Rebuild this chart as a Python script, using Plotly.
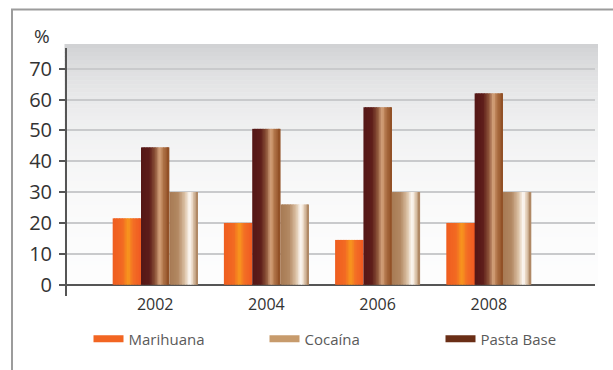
import math
import plotly.graph_objects as go

years = ["2002", "2004", "2006", "2008"]
marihuana = [21.5, 20.0, 14.5, 20.0]
pasta_base = [44.5, 50.5, 57.5, 62.0]
cocaina = [30.0, 26.0, 30.0, 30.0]

series_names = ["Marihuana", "Pasta Base", "Cocaína"]
series_values = [marihuana, pasta_base, cocaina]
legend_order = ["Marihuana", "Cocaína", "Pasta Base"]
legend_colors = {"Marihuana": "#F26522", "Cocaína": "#C79B6C", "Pasta Base": "#6A2E16"}

# horizontal gradient stops (position, color) for each series (cylinder look)
gradients = {
    "Marihuana": [(0.0, "#EF5E20"), (0.35, "#F26923"), (0.55, "#F8981D"), (0.72, "#F36E25"), (1.0, "#F05A22")],
    "Pasta Base": [(0.0, "#541717"), (0.3, "#5E1D1A"), (0.5, "#8C5438"), (0.66, "#D8A780"), (0.78, "#B07448"), (1.0, "#8E4C22")],
    "Cocaína": [(0.0, "#A77A54"), (0.3, "#B28862"), (0.55, "#DCC2A6"), (0.72, "#FFFDFB"), (0.82, "#E6D2BC"), (1.0, "#A67C56")],
}

W, H = 613, 370
ML, MR, MT, MB = 67, 18, 48, 74
PW, PH = W - ML - MR, H - MT - MB


def xp(px):
    return (px - ML) / PW


def yp(py):
    return (H - MB - py) / PH


def hex2rgb(h):
    h = h.lstrip("#")
    return tuple(int(h[i:i + 2], 16) for i in (0, 2, 4))


def interp(stops, t):
    for (p0, c0), (p1, c1) in zip(stops[:-1], stops[1:]):
        if p0 <= t <= p1:
            f = (t - p0) / (p1 - p0) if p1 > p0 else 0
            a, b = hex2rgb(c0), hex2rgb(c1)
            return "rgb(%d,%d,%d)" % tuple(round(a[i] + (b[i] - a[i]) * f) for i in range(3))
    return stops[-1][1]


fig = go.Figure()

bar_w = 0.2548
group_start = -1.5 * bar_w
N = 18
for k, (name, vals) in enumerate(zip(series_names, series_values)):
    s = bar_w / N
    for i in range(N):
        t = (i + 0.5) / N
        width = s * 1.6 if i < N - 1 else s
        fig.add_trace(go.Bar(
            x=years, y=vals, name=name, showlegend=False,
            offset=group_start + k * bar_w + i * s, width=width,
            marker=dict(color=interp(gradients[name], t), line=dict(width=0)),
            hoverinfo="skip",
        ))

for name in legend_order:
    fig.add_trace(go.Scatter(
        x=[None], y=[None], mode="lines", name=name,
        line=dict(color=legend_colors[name], width=7),
    ))

# background gradient of plot area
shapes = []
top, bot = 44, 285
nb = 60
c_top = hex2rgb("#D0D1D3")
for j in range(nb):
    y0 = top + (bot - top) * j / nb
    y1 = top + (bot - top) * (j + 1) / nb + 0.6
    d = (y0 + y1) / 2 - top
    f = 1 - math.exp(-d / 75)
    col = tuple(round(c_top[i] + (255 - c_top[i]) * f) for i in range(3))
    shapes.append(dict(type="rect", xref="paper", yref="paper",
                       x0=xp(64.5), x1=xp(598), y0=yp(y1), y1=yp(y0),
                       fillcolor="rgb(%d,%d,%d)" % col, line=dict(width=0), layer="below"))
# outer frame
shapes.append(dict(type="rect", xref="paper", yref="paper",
                   x0=xp(12), x1=xp(640), y0=yp(400), y1=yp(9.5),
                   line=dict(color="#9C9C9C", width=2), fillcolor="rgba(0,0,0,0)", layer="above"))

fig.update_layout(
    width=W, height=H,
    margin=dict(l=ML, r=MR, t=MT, b=MB, autoexpand=False),
    paper_bgcolor="white", plot_bgcolor="rgba(0,0,0,0)",
    barmode="overlay",
    font=dict(family="Open Sans", color="#333333"),
    shapes=shapes,
    showlegend=True,
    legend=dict(orientation="h", x=xp(88.5), y=yp(339), xanchor="left", yanchor="middle",
                font=dict(size=15, color="#5A5A5A"), entrywidth=131, entrywidthmode="pixels",
                itemwidth=30, bgcolor="rgba(0,0,0,0)", traceorder="normal"),
    annotations=[dict(text="%", xref="paper", yref="paper", x=xp(42), y=yp(36),
                      showarrow=False, font=dict(size=19, color="#333333"),
                      xanchor="center", yanchor="middle")],
)

fig.update_xaxes(
    type="category", range=[-0.793, 3.955], showgrid=False, showline=False,
    ticks="", tickfont=dict(size=16, color="#333333"), ticklabelstandoff=-3,
    zeroline=False,
)
fig.update_yaxes(
    range=[-3.67, 76.7], tick0=0, dtick=10, showgrid=True, gridcolor="#C9CACC", gridwidth=2,
    showline=True, linecolor="#555555", linewidth=2,
    ticks="outside", ticklen=6, tickwidth=2, tickcolor="#555555",
    tickfont=dict(size=20, color="#333333"), ticklabelstandoff=3,
    zeroline=True, zerolinecolor="#555555", zerolinewidth=2,
)

fig.write_html("out.html")
